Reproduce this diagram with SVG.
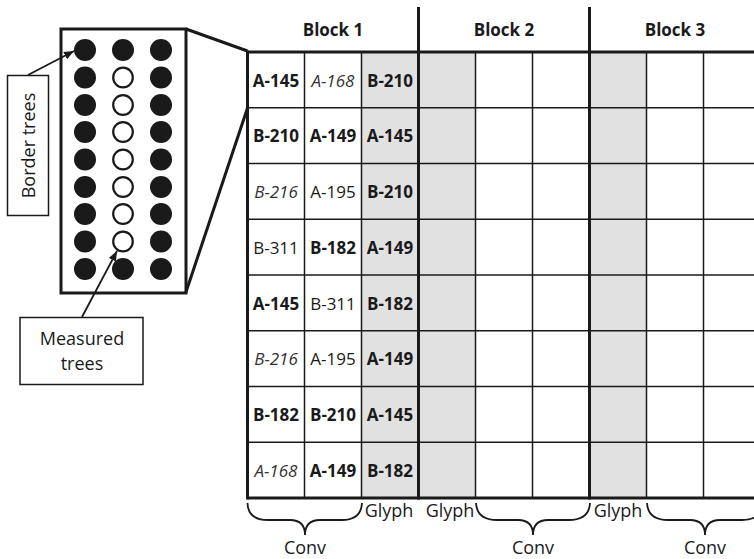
<svg xmlns="http://www.w3.org/2000/svg" width="754" height="559" viewBox="0 0 754 559">
<style>
text{font-family:"Open Sans","Liberation Sans",sans-serif;fill:#1a1a1a}
.c{font-size:17px;text-anchor:middle}
.b{font-weight:bold}
.i{font-style:italic;fill:#333}
.thin{stroke:#1a1a1a;stroke-width:1.5;fill:none}
.thick{stroke:#1a1a1a;stroke-width:3;fill:none}
.shade{fill:#e1e1e1}
.lbl{font-size:18px;text-anchor:middle}
.hdr{font-size:17px;text-anchor:middle;font-weight:bold}
.box{fill:#fff;stroke:#1a1a1a;stroke-width:1.5}
.full{fill:#1a1a1a}
.open{fill:#fff;stroke:#1a1a1a;stroke-width:2.2}
.brace{fill:none;stroke:#1a1a1a;stroke-width:1.8}
</style>
<defs>
<marker id="ah" viewBox="0 0 10 10" refX="10" refY="5" markerWidth="10" markerHeight="10" markerUnits="userSpaceOnUse" orient="auto">
<path d="M0,1 L10,5 L0,9 z" fill="#1a1a1a"/>
</marker>
</defs>

<g id="grid">
<rect class="shade" x="361.5" y="52" width="114" height="446"/>
<rect class="shade" x="589.5" y="52" width="57" height="446"/>
<g class="thin">
<line x1="304.5" y1="52" x2="304.5" y2="498"/>
<line x1="361.5" y1="52" x2="361.5" y2="498"/>
<line x1="475.5" y1="52" x2="475.5" y2="498"/>
<line x1="532.5" y1="52" x2="532.5" y2="498"/>
<line x1="646.5" y1="52" x2="646.5" y2="498"/>
<line x1="703.5" y1="52" x2="703.5" y2="498"/>
<line x1="247.5" y1="107.75" x2="754" y2="107.75"/>
<line x1="247.5" y1="163.5" x2="754" y2="163.5"/>
<line x1="247.5" y1="219.25" x2="754" y2="219.25"/>
<line x1="247.5" y1="275" x2="754" y2="275"/>
<line x1="247.5" y1="330.75" x2="754" y2="330.75"/>
<line x1="247.5" y1="386.5" x2="754" y2="386.5"/>
<line x1="247.5" y1="442.25" x2="754" y2="442.25"/>
</g>
<g class="thick">
<line x1="247.5" y1="52" x2="754" y2="52"/>
<line x1="247.5" y1="498" x2="754" y2="498"/>
<line x1="247.5" y1="50.5" x2="247.5" y2="499.5"/>
<line x1="418.5" y1="7" x2="418.5" y2="499.5"/>
<line x1="589.5" y1="7" x2="589.5" y2="499.5"/>
</g>
</g>

<g id="headers">
<text class="hdr" x="333" y="36">Block 1</text>
<text class="hdr" x="504" y="36">Block 2</text>
<text class="hdr" x="675" y="36">Block 3</text>
</g>

<g id="cells">
<text class="c b" x="276" y="86.5">A-145</text><text class="c i" x="333" y="86.5">A-168</text><text class="c b" x="390" y="86.5">B-210</text>
<text class="c b" x="276" y="142.25">B-210</text><text class="c b" x="333" y="142.25">A-149</text><text class="c b" x="390" y="142.25">A-145</text>
<text class="c i" x="276" y="198">B-216</text><text class="c" x="333" y="198">A-195</text><text class="c b" x="390" y="198">B-210</text>
<text class="c" x="276" y="253.75">B-311</text><text class="c b" x="333" y="253.75">B-182</text><text class="c b" x="390" y="253.75">A-149</text>
<text class="c b" x="276" y="309.5">A-145</text><text class="c" x="333" y="309.5">B-311</text><text class="c b" x="390" y="309.5">B-182</text>
<text class="c i" x="276" y="365.25">B-216</text><text class="c" x="333" y="365.25">A-195</text><text class="c b" x="390" y="365.25">A-149</text>
<text class="c b" x="276" y="421">B-182</text><text class="c b" x="333" y="421">B-210</text><text class="c b" x="390" y="421">A-145</text>
<text class="c i" x="276" y="476.75">A-168</text><text class="c b" x="333" y="476.75">A-149</text><text class="c b" x="390" y="476.75">B-182</text>
</g>

<g id="inset">
<rect x="61" y="29" width="125" height="264" fill="#fff" stroke="#1a1a1a" stroke-width="3"/>
<g class="full">
<circle cx="85" cy="50" r="11"/><circle cx="123" cy="50" r="11"/><circle cx="161" cy="50" r="11"/>
<circle cx="85" cy="77.5" r="11"/><circle cx="161" cy="77.5" r="11"/>
<circle cx="85" cy="105" r="11"/><circle cx="161" cy="105" r="11"/>
<circle cx="85" cy="132" r="11"/><circle cx="161" cy="132" r="11"/>
<circle cx="85" cy="159.5" r="11"/><circle cx="161" cy="159.5" r="11"/>
<circle cx="85" cy="187" r="11"/><circle cx="161" cy="187" r="11"/>
<circle cx="85" cy="214" r="11"/><circle cx="161" cy="214" r="11"/>
<circle cx="85" cy="241.5" r="11"/><circle cx="161" cy="241.5" r="11"/>
<circle cx="85" cy="269" r="11"/><circle cx="123" cy="269" r="11"/><circle cx="161" cy="269" r="11"/>
</g>
<g class="open">
<circle cx="123" cy="77.5" r="9.8"/>
<circle cx="123" cy="105" r="9.8"/>
<circle cx="123" cy="132" r="9.8"/>
<circle cx="123" cy="159.5" r="9.8"/>
<circle cx="123" cy="187" r="9.8"/>
<circle cx="123" cy="214" r="9.8"/>
<circle cx="123" cy="241.5" r="9.8"/>
</g>
</g>

<g id="border-trees">
<rect class="box" x="7.5" y="75.5" width="41" height="140"/>
<text class="lbl" transform="translate(34.5,145.5) rotate(-90)" x="0" y="0">Border trees</text>
</g>

<g id="measured-trees">
<rect class="box" x="20" y="317.5" width="123" height="67"/>
<text class="lbl" x="82" y="345">Measured</text>
<text class="lbl" x="82" y="370">trees</text>
</g>

<g id="braces">
<path class="brace" d="M247.5,503 Q248,520 268,520 L290,520 Q305,520 305,535 Q305,520 320,520 L342,520 Q361,520 362,503"/>
<path class="brace" d="M476,503 Q477,520 497,520 L518,520 Q533,520 533,535 Q533,520 548,520 L569,520 Q589,520 590,503"/>
<path class="brace" d="M647,503 Q648,520 668,520 L690,520 Q705,520 705,535 Q705,520 720,520 L742,520 Q762,520 763,503"/>
<text class="lbl" x="389" y="517">Glyph</text>
<text class="lbl" x="450" y="517">Glyph</text>
<text class="lbl" x="618" y="517">Glyph</text>
<text class="lbl" x="305" y="554">Conv</text>
<text class="lbl" x="533" y="554">Conv</text>
<text class="lbl" x="705" y="554">Conv</text>
</g>

<g id="connectors" fill="none" stroke="#1a1a1a">
<line x1="186" y1="29" x2="247.5" y2="51" stroke-width="3"/>
<line x1="186" y1="292" x2="247.5" y2="108" stroke-width="3"/>
<line x1="28" y1="75" x2="74" y2="51" stroke-width="1.8" marker-end="url(#ah)"/>
<line x1="82" y1="317" x2="117" y2="251" stroke-width="1.8" marker-end="url(#ah)"/>
</g>
</svg>
